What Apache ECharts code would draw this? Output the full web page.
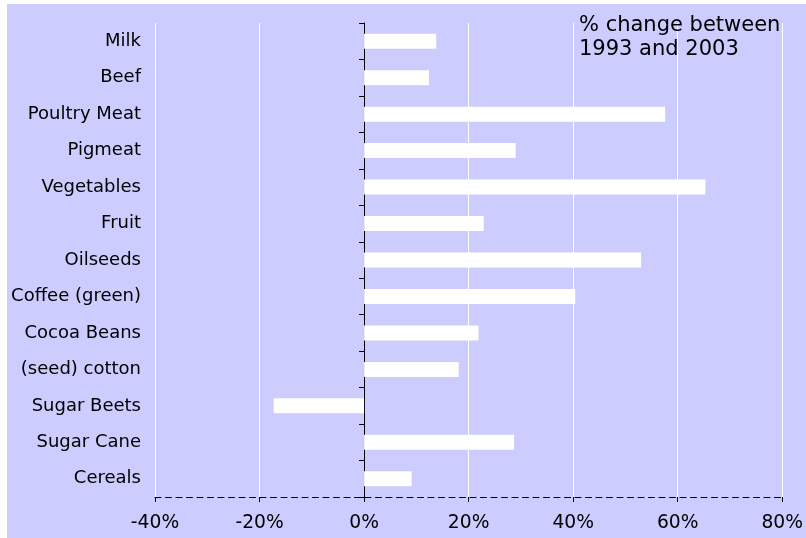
<!DOCTYPE html>
<html>
<head>
<meta charset="utf-8">
<script src="https://cdn.jsdelivr.net/npm/echarts@6/dist/echarts.min.js"></script>
<style>
  html, body { margin: 0; padding: 0; background: #ffffff; }
  #chart { position: absolute; left: 7px; top: 4px; width: 799px; height: 534px; }
</style>
</head>
<body>
<div id="chart"></div>
<script>
// Categories listed top to bottom
const categories = ['Milk', 'Beef', 'Poultry Meat', 'Pigmeat', 'Vegetables', 'Fruit', 'Oilseeds',
  'Coffee (green)', 'Cocoa Beans', '(seed) cotton', 'Sugar Beets', 'Sugar Cane', 'Cereals'];
// % change between 1993 and 2003
const changeValues = [13.8, 12.4, 57.6, 29.0, 65.3, 22.9, 53.0, 40.4, 21.9, 18.1, -17.3, 28.7, 9.1];
const xTickValues = [-40, -20, 0, 20, 40, 60, 80];
const titleText = '% change between\n1993 and 2003';

const FONT = 'DejaVu Sans';
const chart = echarts.init(document.getElementById('chart'), null, { renderer: 'canvas' });
chart.setOption({
  backgroundColor: '#ccccff',
  animation: false,
  title: {
    text: titleText,
    left: 572,
    top: 10,
    padding: 0,
    textStyle: { fontFamily: FONT, fontSize: 21, fontWeight: 'normal', color: '#000', lineHeight: 24 }
  },
  grid: { left: 148, right: 20, top: 19, bottom: 41, containLabel: false },
  xAxis: {
    type: 'value',
    min: xTickValues[0],
    max: xTickValues[xTickValues.length - 1],
    interval: 20,
    axisLine: { show: true, lineStyle: { color: '#000', width: 1, type: [6, 4.5] } },
    axisTick: { show: true, length: 5, lineStyle: { color: '#000', width: 1 } },
    axisLabel: { formatter: '{value}%', fontFamily: FONT, fontSize: 18.7, color: '#000', margin: 17 },
    splitLine: { show: true, lineStyle: { color: '#ffffff', width: 1 } }
  },
  yAxis: [
    {
      type: 'category',
      data: categories,
      inverse: true,
      position: 'left',
      axisLine: { show: false, onZero: false },
      axisTick: { show: false },
      axisLabel: { fontFamily: FONT, fontSize: 18, color: '#000', margin: 14 },
      splitLine: { show: false }
    },
    {
      type: 'category',
      data: categories,
      inverse: true,
      position: 'left',
      axisLine: { show: true, onZero: true, onZeroAxisIndex: 0, lineStyle: { color: '#000', width: 1 } },
      axisTick: { show: true, length: 5, lineStyle: { color: '#000', width: 1 } },
      axisLabel: { show: false },
      splitLine: { show: false }
    }
  ],
  series: [{
    type: 'bar',
    data: changeValues,
    yAxisIndex: 0,
    barWidth: 15,
    itemStyle: { color: '#ffffff' },
    z: 1
  }]
});
</script>
</body>
</html>
